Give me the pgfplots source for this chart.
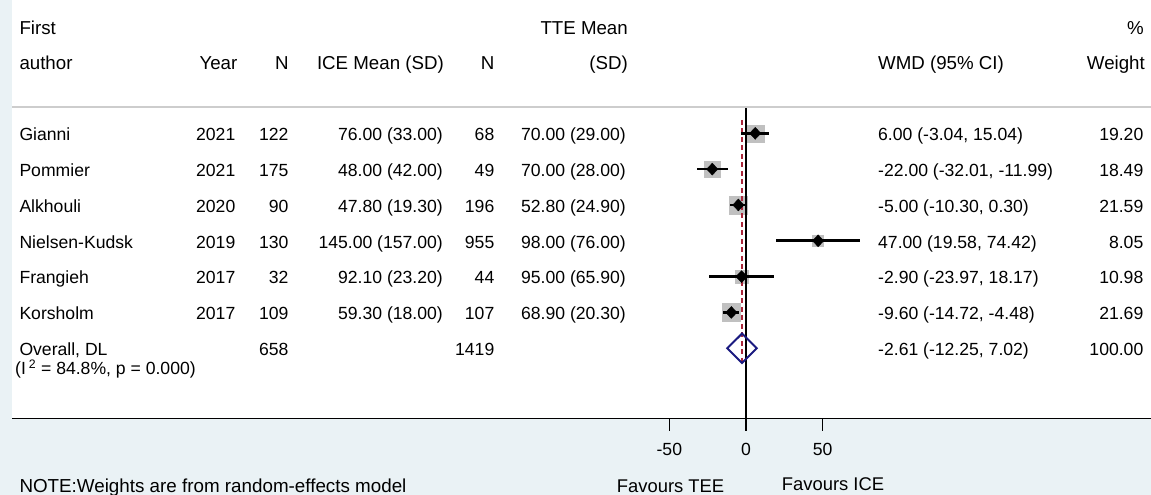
\documentclass[border=0pt]{standalone}
\usepackage{fontspec}
\setmainfont{Liberation Sans}
\usepackage{pgfplots}
\pgfplotsset{compat=1.18}
\usepackage{pgfplotstable}
\definecolor{bg}{RGB}{234,242,245}
\definecolor{boxgray}{RGB}{192,192,192}
\definecolor{dashred}{RGB}{170,40,60}
\definecolor{navy}{RGB}{26,26,128}
\definecolor{sepgray}{RGB}{205,205,205}

\pgfplotstableread{
k est err w
0 6.00 9.04 19.20
-1 -22.00 10.01 18.49
-2 -5.00 5.30 21.59
-3 47.00 27.42 8.05
-4 -2.90 21.07 10.98
-5 -9.60 5.12 21.69
}\studies

\newcommand\ff{\fontsize{17.6bp}{21bp}\selectfont}
\newcommand\fh{\fontsize{18.7bp}{22bp}\selectfont}
\newcommand\TL[3]{\node[anchor=base west] at (#1bp,-#2bp) {#3};}
\newcommand\TR[3]{\node[anchor=base east] at (#1bp,-#2bp) {#3};}
\newcommand\HL[3]{\node[anchor=base west,font=\fh] at (#1bp,-#2bp) {#3};}
\newcommand\HR[3]{\node[anchor=base east,font=\fh] at (#1bp,-#2bp) {#3};}

\pgfplotsset{forestgeom/.style={
  at={(12bp,-418.5bp)}, anchor=south west,
  scale only axis, width=1139bp, height=418.5bp,
  xmin=-478.5, xmax=264.0, ymin=-7.96, ymax=3.72, clip=false}}

\begin{document}
\begin{tikzpicture}[every node/.style={font=\ff, inner sep=0pt, text=black}]
\fill[bg] (0,0) rectangle (1151bp,-495bp);
\fill[white] (12bp,0) rectangle (1151bp,-418.5bp);
% layer 1: weight boxes
\begin{axis}[forestgeom, hide axis]
\addplot[scatter, only marks, mark=square*,
  scatter/use mapped color={draw=boxgray, fill=boxgray},
  visualization depends on={\thisrow{w} \as \wt},
  scatter/@pre marker code/.append style={/tikz/mark size={1.95*sqrt(\wt)}}]
  table[x=est, y=k] {\studies};
\end{axis}
% layer 2: everything else
\begin{axis}[forestgeom,
  axis y line=none, axis x line=bottom,
  axis line style={-, line width=1.8bp, black},
  xtick={-50,0,50}, tick align=outside, major tick length=12bp,
  x tick style={line width=1.3bp, black},
  xticklabel style={anchor=base, yshift=-25bp, font=\ff},
  /pgf/number format/assume math mode=true,
]
\addplot[black, line width=1.4bp] coordinates {(0,0.734) (0,-7.96)};
\addplot[dashred, line width=1.5bp, dash pattern=on 5bp off 3.5bp] coordinates {(-2.61,0.371) (-2.61,-6.495)};
\addplot[only marks, mark=none, line width=2.6bp,
  error bars/.cd, x dir=both, x explicit, error mark=none,
  error bar style={draw=black, line width=2.6bp}]
  table[x=est, y=k, x error=err] {\studies};
\addplot[only marks, mark=diamond*, mark size=6pt,
  mark options={fill=black, draw=black, xscale=1.25}]
  table[x=est, y=k] {\studies};
\addplot[navy, line width=2bp, line join=miter, mark=none]
  coordinates {(-12.25,-6) (-2.61,-5.59) (7.02,-6) (-2.61,-6.41)} -- cycle;
\end{axis}
\draw[sepgray, line width=2bp] (12bp,-106.5bp) -- (1151bp,-106.5bp);
% header
\HL{19.3}{34.3}{First}
\HR{628}{34.3}{TTE Mean}
\HR{1144}{34.3}{\%}
\HL{19.3}{69.3}{author}
\HR{237.5}{69.3}{Year}
\HR{288.7}{69.3}{N}
\HR{444}{69.3}{ICE Mean (SD)}
\HR{494.5}{69.3}{N}
\HR{628}{69.3}{(SD)}
\HL{878}{69.3}{WMD (95\% CI)}
\HR{1145}{69.3}{Weight}
% rows
\TL{19.3}{140.6}{Gianni}
\TR{235.5}{140.6}{2021}\TR{288.7}{140.6}{122}\TR{443}{140.6}{76.00 (33.00)}\TR{494.5}{140.6}{68}\TR{626}{140.6}{70.00 (29.00)}
\TL{878}{140.6}{6.00 (-3.04, 15.04)}\TR{1143.5}{140.6}{19.20}
\TL{19.3}{176.4}{Pommier}
\TR{235.5}{176.4}{2021}\TR{288.7}{176.4}{175}\TR{443}{176.4}{48.00 (42.00)}\TR{494.5}{176.4}{49}\TR{626}{176.4}{70.00 (28.00)}
\TL{878}{176.4}{-22.00 (-32.01, -11.99)}\TR{1143.5}{176.4}{18.49}
\TL{19.3}{212.3}{Alkhouli}
\TR{235.5}{212.3}{2020}\TR{288.7}{212.3}{90}\TR{443}{212.3}{47.80 (19.30)}\TR{494.5}{212.3}{196}\TR{626}{212.3}{52.80 (24.90)}
\TL{878}{212.3}{-5.00 (-10.30, 0.30)}\TR{1143.5}{212.3}{21.59}
\TL{19.3}{248.1}{Nielsen-Kudsk}
\TR{235.5}{248.1}{2019}\TR{288.7}{248.1}{130}\TR{443}{248.1}{145.00 (157.00)}\TR{494.5}{248.1}{955}\TR{626}{248.1}{98.00 (76.00)}
\TL{878}{248.1}{47.00 (19.58, 74.42)}\TR{1143.5}{248.1}{8.05}
\TL{19.3}{283.9}{Frangieh}
\TR{235.5}{283.9}{2017}\TR{288.7}{283.9}{32}\TR{443}{283.9}{92.10 (23.20)}\TR{494.5}{283.9}{44}\TR{626}{283.9}{95.00 (65.90)}
\TL{878}{283.9}{-2.90 (-23.97, 18.17)}\TR{1143.5}{283.9}{10.98}
\TL{19.3}{319.7}{Korsholm}
\TR{235.5}{319.7}{2017}\TR{288.7}{319.7}{109}\TR{443}{319.7}{59.30 (18.00)}\TR{494.5}{319.7}{107}\TR{626}{319.7}{68.90 (20.30)}
\TL{878}{319.7}{-9.60 (-14.72, -4.48)}\TR{1143.5}{319.7}{21.69}
\TL{19.3}{355.5}{Overall, DL}
\TR{288.7}{355.5}{658}\TR{494.5}{355.5}{1419}
\TL{878}{355.5}{-2.61 (-12.25, 7.02)}\TR{1143.5}{355.5}{100.00}
\TL{15}{374.3}{(I\,\textsuperscript{2} = 84.8\%, p = 0.000)}
% bottom
\node[anchor=base west,font=\fontsize{18.8bp}{22bp}\selectfont] at (19.3bp,-492bp) {NOTE:Weights are from random-effects model};
\node[anchor=base west,font=\fontsize{18.4bp}{22bp}\selectfont] at (616.7bp,-492.5bp) {Favours TEE};
\node[anchor=base west,font=\fontsize{18.4bp}{22bp}\selectfont] at (781.7bp,-490.5bp) {Favours ICE};
\pgfresetboundingbox
\useasboundingbox (0,0) rectangle (1151bp,-495bp);
\end{tikzpicture}
\end{document}
